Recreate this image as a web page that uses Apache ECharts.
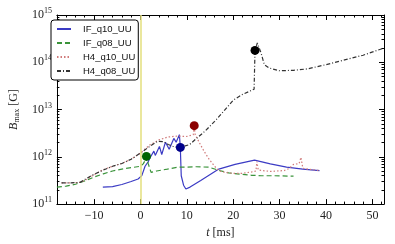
<!DOCTYPE html>
<html><head><meta charset="utf-8">
<script src="https://cdn.jsdelivr.net/npm/echarts@6/dist/echarts.min.js"></script>
<style>html,body{margin:0;padding:0;background:#fff}#c{width:395px;height:244px}</style>
</head><body><div id="c"></div>
<script>
// tick labels / tick positions
const xMajor = [-10, 0, 10, 20, 30, 40, 50];
const xMinor = [-18, -16, -14, -12, -8, -6, -4, -2, 2, 4, 6, 8, 12, 14, 16, 18, 22, 24, 26, 28, 32, 34, 36, 38, 42, 44, 46, 48, 52];
const yMinor = [2e11,3e11,4e11,5e11,6e11,7e11,8e11,9e11,
                2e12,3e12,4e12,5e12,6e12,7e12,8e12,9e12,
                2e13,3e13,4e13,5e13,6e13,7e13,8e13,9e13,
                2e14,3e14,4e14,5e14,6e14,7e14,8e14,9e14];

// IF_q10_UU (blue, solid)
const tIFq10 = [-8.1, -6, -4, -2, -0.5, 0.3, 1.0, 1.7, 2.2, 2.9, 3.2, 4.1, 4.6, 5.4, 6.2, 7.2, 7.7, 8.4, 8.6, 8.8, 9.3, 9.8, 10.7, 13, 16.9, 20.4, 24.6, 28, 31.5, 35, 38.6];
const bIFq10 = [2.29e11, 2.34e11, 2.6e11, 3.0e11, 3.4e11, 4.0e11, 6.31e11, 7.94e11, 1.0e12, 1.32e12, 1.07e12, 1.66e12, 1.12e12, 2.04e12, 1.45e12, 2.45e12, 2.04e12, 2.95e12, 1.58e12, 3.98e11, 2.51e11, 2.09e11, 2.29e11, 3.16e11, 5.5e11, 6.92e11, 8.51e11, 7.08e11, 6.03e11, 5.5e11, 5.13e11];

// IF_q08_UU (green, dashed)
const tIFq08 = [-18, -16, -14, -12, -10, -8, -6, -4, -2, 0, 0.6, 1.0, 1.3, 1.7, 2.3, 3.5, 5.8, 8, 10, 12, 14.8, 17, 19, 21.8, 24, 26, 29, 33];
const bIFq08 = [2.29e11, 2.4e11, 2.63e11, 3.09e11, 3.72e11, 4.37e11, 5.01e11, 5.5e11, 5.89e11, 6.31e11, 7.08e11, 8.32e11, 1.02e12, 7.08e11, 4.68e11, 5.01e11, 5.5e11, 6.03e11, 6.03e11, 6.17e11, 6.03e11, 5.13e11, 4.57e11, 4.27e11, 4.07e11, 3.98e11, 3.98e11, 3.89e11];

// H4_q10_UU (red, dotted)
const tH4q10 = [-17, -15, -13, -12, -10, -8, -6, -4, -2, 0, 2, 4, 6, 8, 10, 11.4, 11.6, 11.8, 12.7, 13.7, 14.8, 16, 17, 18.3, 20, 21.8, 24, 24.9, 25.1, 25.4, 28, 31, 32, 33, 34.2, 34.6, 35, 36, 38.5];
const bH4q10 = [2.82e11, 2.82e11, 2.88e11, 3.16e11, 4.17e11, 5.37e11, 6.31e11, 7.24e11, 8.91e11, 1.2e12, 1.78e12, 2.29e12, 2.63e12, 2.75e12, 2.69e12, 2.95e12, 4.57e12, 2.95e12, 2.0e12, 1.32e12, 8.91e11, 6.31e11, 5.01e11, 4.68e11, 4.47e11, 4.47e11, 4.79e11, 5.01e11, 7.94e11, 5.25e11, 4.9e11, 5.13e11, 5.62e11, 6.92e11, 7.2e11, 9.77e11, 5.75e11, 5.5e11, 5.13e11];

// H4_q08_UU (black, dash-dot)
const tH4q08 = [-17, -15, -13, -12, -10, -8, -6, -4, -2, 0, 2, 3.75, 5, 6, 7, 8.6, 10.6, 12, 14, 16, 18, 20, 22, 24.5, 24.7, 25.2, 26, 26.7, 27.7, 30, 33, 36, 40, 44, 48, 52.5];
const bH4q08 = [2.82e11, 2.82e11, 2.88e11, 3.31e11, 4.27e11, 5.25e11, 6.31e11, 7.24e11, 8.91e11, 1.2e12, 1.66e12, 2.14e12, 2.09e12, 1.82e12, 1.66e12, 1.58e12, 1.82e12, 2.4e12, 3.55e12, 5.62e12, 9.33e12, 1.58e13, 2.09e13, 2.69e13, 1.78e14, 2.57e14, 1.58e14, 8.91e13, 7.59e13, 6.61e13, 6.76e13, 7.24e13, 8.91e13, 1.12e14, 1.41e14, 2.0e14];

// marker dots
const dotT = [1.3, 8.6, 11.6, 24.7];
const dotB = [1.02e12, 1.58e12, 4.57e12, 1.78e14];
const dotColors = ['#006400', '#00008b', '#8b0000', '#000000'];

const names = ['IF_q10_UU', 'IF_q08_UU', 'H4_q10_UU', 'H4_q08_UU'];
const colors = ['#3b3bc4', '#3a933a', '#d07a7a', '#333333'];

function pairs(t, b) { return t.map((v, i) => [v, b[i]]); }

const serifFont = 'Liberation Serif';
const chart = echarts.init(document.getElementById('c'), null, {renderer: 'canvas'});

function xAx(pos, vals, len, labels) {
  return {
    type: 'value', position: pos, min: -18, max: 52.5,
    axisLine: {show: len > 3, onZero: false, lineStyle: {color: '#000', width: 1}},
    axisTick: {show: true, inside: true, length: len, customValues: vals, lineStyle: {color: '#000', width: 1}},
    axisLabel: labels ? {show: true, customValues: xMajor, margin: 6, color: '#222', fontFamily: serifFont, fontSize: 12,
      formatter: v => (v < 0 ? '\u2212' + Math.abs(v) : String(v))} : {show: false},
    splitLine: {show: false}
  };
}
function yAx(pos, vals, len, labels) {
  const ax = {
    type: 'log', logBase: 10, position: pos, min: 1e11, max: 1e15, interval: 1,
    axisLine: {show: len > 3, onZero: false, lineStyle: {color: '#000', width: 1}},
    axisTick: {show: true, inside: true, length: len, lineStyle: {color: '#000', width: 1}},
    axisLabel: labels ? {show: true, showMaxLabel: true, showMinLabel: true, margin: 5, color: '#222',
      formatter: v => '{b|10}{s|' + Math.round(Math.log10(v)) + '}',
      rich: {b: {fontFamily: serifFont, fontSize: 12, color: '#222'},
             s: {fontFamily: serifFont, fontSize: 8, color: '#222', verticalAlign: 'top', padding: [0, 0, 8, 0]}}} : {show: false},
    splitLine: {show: false}
  };
  if (vals) ax.axisTick.customValues = vals;
  return ax;
}

const xAxes = [xAx('bottom', xMajor, 5, true), xAx('bottom', xMinor, 2.5, false), xAx('top', xMajor, 5, false), xAx('top', xMinor, 2.5, false)];
xAxes[0].name = '{i|t} [ms]';
xAxes[0].nameLocation = 'middle';
xAxes[0].nameGap = 17;
xAxes[0].nameTextStyle = {fontFamily: serifFont, fontSize: 12, color: '#222', rich: {i: {fontFamily: serifFont, fontStyle: 'italic', fontSize: 12, color: '#222'}}};

const yAxes = [yAx('left', null, 5, true), yAx('left', yMinor, 2.5, false), yAx('right', null, 5, false), yAx('right', yMinor, 2.5, false)];
yAxes[0].name = '{i|B}{sub|max} [G]';
yAxes[0].nameLocation = 'middle';
yAxes[0].nameRotate = 90;
yAxes[0].nameGap = 25;
yAxes[0].nameTextStyle = {fontFamily: serifFont, fontSize: 12, color: '#222',
  rich: {i: {fontFamily: serifFont, fontStyle: 'italic', fontSize: 12, color: '#222'},
         sub: {fontFamily: serifFont, fontSize: 8, color: '#222', verticalAlign: 'bottom', padding: [6, 0, 0, 0]}}};

const lineTypes = ['solid', [5, 3], [1.5, 2], [4, 2, 1, 2]];
const series = [[tIFq10, bIFq10], [tIFq08, bIFq08], [tH4q10, bH4q10], [tH4q08, bH4q08]].map((d, i) => ({
  name: names[i], type: 'line', xAxisIndex: 0, yAxisIndex: 0, data: pairs(d[0], d[1]),
  showSymbol: false, symbol: 'none', smooth: false, animation: false,
  lineStyle: {color: colors[i], width: 1.2, type: lineTypes[i]}, itemStyle: {color: colors[i]}, z: 3
}));
series.push({
  type: 'line', xAxisIndex: 0, yAxisIndex: 0, data: [], silent: true, animation: false,
  markLine: {silent: true, symbol: 'none', label: {show: false}, animation: false,
    lineStyle: {color: '#e3df7c', width: 1.5, type: 'solid'}, data: [{xAxis: 0}]}, z: 2
});
series.push({
  type: 'scatter', xAxisIndex: 0, yAxisIndex: 0, symbolSize: 9, animation: false, z: 5,
  itemStyle: {opacity: 1},
  data: dotT.map((t, i) => ({value: [t, dotB[i]], itemStyle: {color: dotColors[i], opacity: 1}}))
});

chart.setOption({
  animation: false,
  backgroundColor: '#fff',
  grid: {left: 46, right: 11, top: 15, bottom: 39, containLabel: false},
  legend: {
    data: names, orient: 'vertical', left: 51, top: 20,
    backgroundColor: '#fff', borderColor: '#000', borderWidth: 1, borderRadius: 3,
    padding: [4, 3, 4, 5], itemGap: 4, itemWidth: 14, itemHeight: 9,
    textStyle: {fontFamily: 'Liberation Sans', fontSize: 9.5, color: '#111', padding: [0, 0, 0, 7]},
    itemStyle: {opacity: 0}
  },
  xAxis: xAxes,
  yAxis: yAxes,
  series: series
});
</script></body></html>
